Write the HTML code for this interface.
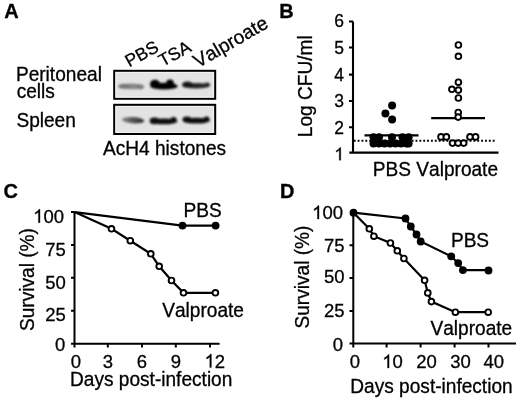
<!DOCTYPE html>
<html><head><meta charset="utf-8">
<style>
html,body{margin:0;padding:0;background:#fff;}
body{width:520px;height:400px;overflow:hidden;}
svg{display:block;will-change:transform;filter:blur(0.35px);}
text{font-family:"Liberation Sans",sans-serif;fill:#000;font-kerning:none;stroke:#000;stroke-width:0.3px;}
</style></head>
<body>
<svg width="520" height="400" viewBox="0 0 520 400">
<defs>
<linearGradient id="g1" x1="0" x2="1" y1="0" y2="0"><stop offset="0" stop-color="#8a8a8a"/><stop offset="0.45" stop-color="#5a5a5a"/><stop offset="1" stop-color="#2a2a2a"/></linearGradient>
<filter id="bl" x="-30%" y="-100%" width="160%" height="300%"><feGaussianBlur stdDeviation="1.1"/></filter>
</defs>
<text transform="translate(4.3,18) scale(1,1.01)" font-size="20" font-weight="bold">A</text>
<text transform="translate(129.3,67.6) rotate(-29) scale(1,1.01)" font-size="17.5">PBS</text>
<text transform="translate(162.7,67.1) rotate(-29) scale(1,1.01)" font-size="17.5">TSA</text>
<text transform="translate(198,68.2) rotate(-30) scale(1,1.01)" font-size="19.3">Valproate</text>
<text transform="translate(15.9,81) scale(1,1.01)" font-size="19.1">Peritoneal</text>
<text transform="translate(16.7,98) scale(1,1.01)" font-size="19.1">cells</text>
<text transform="translate(16.4,127) scale(1,1.01)" font-size="19.1">Spleen</text>
<rect x="114.2" y="70.8" width="101" height="28" fill="#e3e3e3" stroke="#000" stroke-width="2"/>
<rect x="116" y="72.6" width="97.4" height="24.4" fill="none" stroke="#f2f2f2" stroke-width="1"/>
<g filter="url(#bl)">
  <ellipse cx="131" cy="86.4" rx="13.2" ry="2.8" fill="#868686"/>
  <ellipse cx="124" cy="86.2" rx="5.5" ry="2.4" fill="#767676"/>
  <ellipse cx="140" cy="86.9" rx="3.8" ry="2.4" fill="#7c7c7c"/>
  <ellipse cx="164" cy="86.2" rx="13.6" ry="3.4" fill="#060606"/>
  <ellipse cx="155" cy="83.9" rx="5" ry="4.2" fill="#060606"/>
  <ellipse cx="170" cy="83.2" rx="3.8" ry="3.6" fill="#060606"/>
  <ellipse cx="196" cy="85.8" rx="13.8" ry="2.8" fill="#262626"/>
  <ellipse cx="187.5" cy="84.4" rx="5.5" ry="2.8" fill="#141414"/>
  <ellipse cx="207" cy="84.6" rx="3" ry="2.2" fill="#2a2a2a"/>
</g>
<rect x="114.2" y="104.8" width="101" height="29.2" fill="#e3e3e3" stroke="#000" stroke-width="2"/>
<rect x="116" y="106.6" width="97.4" height="25.6" fill="none" stroke="#f2f2f2" stroke-width="1"/>
<g filter="url(#bl)">
  <ellipse cx="133" cy="120.2" rx="11.2" ry="3.1" fill="url(#g1)" transform="rotate(4 133 120.2)"/>
  <ellipse cx="163.8" cy="121.4" rx="13.5" ry="2.9" fill="#0c0c0c"/>
  <ellipse cx="154.5" cy="120.9" rx="4.8" ry="3.3" fill="#0c0c0c"/>
  <ellipse cx="173.5" cy="119.6" rx="3.2" ry="2.7" fill="#0c0c0c"/>
  <ellipse cx="196.5" cy="120.6" rx="13.5" ry="2.9" fill="#101010"/>
  <ellipse cx="187" cy="119.6" rx="4.5" ry="3.1" fill="#101010"/>
  <ellipse cx="206.5" cy="119" rx="3" ry="2.6" fill="#101010"/>
</g>
<text transform="translate(103,155) scale(1,1.01)" font-size="19.1">AcH4 histones</text>
<text transform="translate(279.3,17.6) scale(1,1.01)" font-size="20" font-weight="bold">B</text>
<text transform="translate(312.2,137.2) rotate(-90) scale(1,1.01)" font-size="19.1">Log CFU/ml</text>
<text transform="translate(344,27.2) scale(1,1.01)" font-size="17.5" text-anchor="end">6</text>
<text transform="translate(344,54) scale(1,1.01)" font-size="17.5" text-anchor="end">5</text>
<text transform="translate(344,81.2) scale(1,1.01)" font-size="17.5" text-anchor="end">4</text>
<text transform="translate(344,107.3) scale(1,1.01)" font-size="17.5" text-anchor="end">3</text>
<text transform="translate(344,133.8) scale(1,1.01)" font-size="17.5" text-anchor="end">2</text>
<path d="M763 0H583V1147Q518 1085 412.5 1023T223 930V1104Q374 1175 487 1276T647 1472H763V0Z" transform="translate(334.27,160.2) scale(0.00854,-0.00863)" fill="#000" stroke="#000" stroke-width="35.1"/>
<path d="M353 21.5V153.5M349 21.5H353M349 47.5H353M349 74.6H353M349 101H353M349 127.3H353M349.3 152.6H498.5" stroke="#000" stroke-width="2.1" fill="none"/>
<path d="M353.75 140.8H495.5" stroke="#000" stroke-width="2" stroke-dasharray="1.9 1.96" fill="none"/>
<path d="M364.5 135.3H418.5M431.2 118.1H485" stroke="#000" stroke-width="2.2" fill="none"/>
<g fill="#000"><circle cx="392.1" cy="105.5" r="4"/><circle cx="385.4" cy="113.4" r="4"/><circle cx="392.1" cy="119.4" r="4"/><circle cx="373.5" cy="137.2" r="4"/><circle cx="379" cy="137.2" r="4"/><circle cx="392" cy="137.2" r="4"/><circle cx="402.5" cy="137.2" r="4"/><circle cx="408.6" cy="137.2" r="4"/><circle cx="373.5" cy="143.4" r="4"/><circle cx="379" cy="143.4" r="4"/><circle cx="384.5" cy="143.4" r="4"/><circle cx="390" cy="143.4" r="4"/><circle cx="395.5" cy="143.4" r="4"/><circle cx="401" cy="143.4" r="4"/><circle cx="406.5" cy="143.4" r="4"/><circle cx="408.6" cy="143.4" r="4"/></g>
<g fill="#fff" stroke="#000" stroke-width="1.9"><circle cx="458.4" cy="45" r="2.85"/><circle cx="458.4" cy="56.3" r="2.85"/><circle cx="458.4" cy="82.2" r="2.85"/><circle cx="451.9" cy="89.3" r="2.85"/><circle cx="458.4" cy="90.1" r="2.85"/><circle cx="458.4" cy="98" r="2.85"/><circle cx="458.2" cy="112.5" r="2.85"/><circle cx="458.2" cy="117.1" r="2.85"/><circle cx="441" cy="136.9" r="2.85"/><circle cx="446.4" cy="136.9" r="2.85"/><circle cx="452.5" cy="143.1" r="2.85"/><circle cx="458.1" cy="143.1" r="2.85"/><circle cx="463.7" cy="143.1" r="2.85"/><circle cx="470" cy="136.9" r="2.85"/><circle cx="475.6" cy="136.9" r="2.85"/></g>
<text transform="translate(372.8,176) scale(1,1.01)" font-size="19.1">PBS Valproate</text>
<text transform="translate(3.6,197.7) scale(1,1.01)" font-size="20" font-weight="bold">C</text>
<text transform="translate(33.8,331) rotate(-90) scale(1,1.01)" font-size="19.1">Survival (%)</text>
<path d="M763 0H583V1147Q518 1085 412.5 1023T223 930V1104Q374 1175 487 1276T647 1472H763V0Z" transform="translate(33.13,222.7) scale(0.00903,-0.00912)" fill="#000" stroke="#000" stroke-width="33.2"/>
<text transform="translate(43.42,222.7) scale(1,1.01)" font-size="18.5">0</text>
<text transform="translate(53.71,222.7) scale(1,1.01)" font-size="18.5">0</text>
<text transform="translate(65.8,255.8) scale(1,1.01)" font-size="18.5" text-anchor="end">75</text>
<text transform="translate(65.8,288.6) scale(1,1.01)" font-size="18.5" text-anchor="end">50</text>
<text transform="translate(65.8,321.3) scale(1,1.01)" font-size="18.5" text-anchor="end">25</text>
<text transform="translate(65.3,350.8) scale(1,1.01)" font-size="18.5" text-anchor="end">0</text>
<g stroke="#000" stroke-width="2.2" fill="none"><path stroke-width="2" d="M74.5 212.1V344.7M71 212.1H74.5M71 245H74.5M71 277.8H74.5M71 310.7H74.5M71 343.7H219.6M74.5 343.7V347.6M107.8 343.7V347.6M142 343.7V347.6M175.8 343.7V347.6M210 343.7V347.6"/><path d="M74.5 212.1L182.5 225.6H215.6"/><path d="M74.5 212.1L111.5 228.8L130.3 240.7L150.8 253.8L159.2 266.3L171.5 280.5L183.5 292.8H215.4"/></g>
<g fill="#000"><circle cx="182.5" cy="225.6" r="3.9"/><circle cx="215.6" cy="225.6" r="3.9"/></g>
<g fill="#fff" stroke="#000" stroke-width="1.9"><circle cx="111.5" cy="228.8" r="2.85"/><circle cx="130.3" cy="240.7" r="2.85"/><circle cx="150.8" cy="253.8" r="2.85"/><circle cx="159.2" cy="266.3" r="2.85"/><circle cx="171.5" cy="280.5" r="2.85"/><circle cx="183.5" cy="292.8" r="2.85"/><circle cx="215.4" cy="292.8" r="2.85"/></g>
<text transform="translate(76,367.5) scale(1,1.01)" font-size="18.5" text-anchor="middle">0</text>
<text transform="translate(107.8,367.5) scale(1,1.01)" font-size="18.5" text-anchor="middle">3</text>
<text transform="translate(142,367.5) scale(1,1.01)" font-size="18.5" text-anchor="middle">6</text>
<text transform="translate(175.8,367.5) scale(1,1.01)" font-size="18.5" text-anchor="middle">9</text>
<path d="M763 0H583V1147Q518 1085 412.5 1023T223 930V1104Q374 1175 487 1276T647 1472H763V0Z" transform="translate(204.51,367.5) scale(0.00903,-0.00912)" fill="#000" stroke="#000" stroke-width="33.2"/>
<text transform="translate(214.8,367.5) scale(1,1.01)" font-size="18.5">2</text>
<text transform="translate(70,386) scale(1,1.01)" font-size="19.1">Days post-infection</text>
<text transform="translate(183.5,216.7) scale(1,1.01)" font-size="19.1">PBS</text>
<text transform="translate(162.2,316.5) scale(1,1.01)" font-size="19.1">Valproate</text>
<text transform="translate(280.1,197.5) scale(1,1.01)" font-size="20" font-weight="bold">D</text>
<text transform="translate(309.4,328.5) rotate(-90) scale(1,1.01)" font-size="19.1">Survival (%)</text>
<path d="M763 0H583V1147Q518 1085 412.5 1023T223 930V1104Q374 1175 487 1276T647 1472H763V0Z" transform="translate(312.13,219) scale(0.00903,-0.00912)" fill="#000" stroke="#000" stroke-width="33.2"/>
<text transform="translate(322.42,219) scale(1,1.01)" font-size="18.5">0</text>
<text transform="translate(332.71,219) scale(1,1.01)" font-size="18.5">0</text>
<text transform="translate(344.5,251.8) scale(1,1.01)" font-size="18.5" text-anchor="end">75</text>
<text transform="translate(344.5,283) scale(1,1.01)" font-size="18.5" text-anchor="end">50</text>
<text transform="translate(344.5,317.4) scale(1,1.01)" font-size="18.5" text-anchor="end">25</text>
<text transform="translate(343,351) scale(1,1.01)" font-size="18.5" text-anchor="end">0</text>
<g stroke="#000" stroke-width="2.2" fill="none"><path stroke-width="2" d="M353.3 212.3V344.5M349.5 245.2H353.3M349.5 277.9H353.3M349.5 310.9H353.3M349.5 343.6H516M353.3 343.6V347.5M386.6 343.6V347.5M420.6 343.6V347.5M454.6 343.6V347.5M488.5 343.6V347.5"/><path d="M353.5 212.7L405.5 218.5L410.8 226.5L416.5 234.5L420.7 241.5L451.2 256.3L458.2 263.1L462.9 270.1H488.5"/><path d="M353.5 212.7L369.3 228.8L373.9 236.2L390.4 243L397.3 250.8L403.9 258.5L424.6 280.3L427.8 292.9L431.4 301.6L455.4 312.2H488.5"/></g>
<g fill="#000"><circle cx="353.5" cy="212.7" r="3.9"/><circle cx="405.5" cy="218.5" r="3.9"/><circle cx="410.8" cy="226.5" r="3.9"/><circle cx="416.5" cy="234.5" r="3.9"/><circle cx="420.7" cy="241.5" r="3.9"/><circle cx="451.2" cy="256.3" r="3.9"/><circle cx="458.2" cy="263.1" r="3.9"/><circle cx="462.9" cy="270.1" r="3.9"/><circle cx="488.5" cy="270.5" r="3.9"/></g>
<g fill="#fff" stroke="#000" stroke-width="1.9"><circle cx="369.3" cy="228.8" r="2.85"/><circle cx="373.9" cy="236.2" r="2.85"/><circle cx="390.4" cy="243" r="2.85"/><circle cx="397.3" cy="250.8" r="2.85"/><circle cx="403.9" cy="258.5" r="2.85"/><circle cx="424.6" cy="280.3" r="2.85"/><circle cx="427.8" cy="292.9" r="2.85"/><circle cx="431.4" cy="301.6" r="2.85"/><circle cx="455.4" cy="312.2" r="2.85"/><circle cx="488.2" cy="312.2" r="2.85"/></g>
<text transform="translate(355,368) scale(1,1.01)" font-size="18.5" text-anchor="middle">0</text>
<path d="M763 0H583V1147Q518 1085 412.5 1023T223 930V1104Q374 1175 487 1276T647 1472H763V0Z" transform="translate(382.21,368) scale(0.00903,-0.00912)" fill="#000" stroke="#000" stroke-width="33.2"/>
<text transform="translate(392.5,368) scale(1,1.01)" font-size="18.5">0</text>
<text transform="translate(426.5,368) scale(1,1.01)" font-size="18.5" text-anchor="middle">20</text>
<text transform="translate(460.5,368) scale(1,1.01)" font-size="18.5" text-anchor="middle">30</text>
<text transform="translate(493.8,368) scale(1,1.01)" font-size="18.5" text-anchor="middle">40</text>
<text transform="translate(350.3,392.6) scale(1,1.01)" font-size="19.1">Days post-infection</text>
<text transform="translate(450.9,246.8) scale(1,1.01)" font-size="19.1">PBS</text>
<text transform="translate(430.5,334.7) scale(1,1.01)" font-size="19.1">Valproate</text>
</svg>
</body></html>
